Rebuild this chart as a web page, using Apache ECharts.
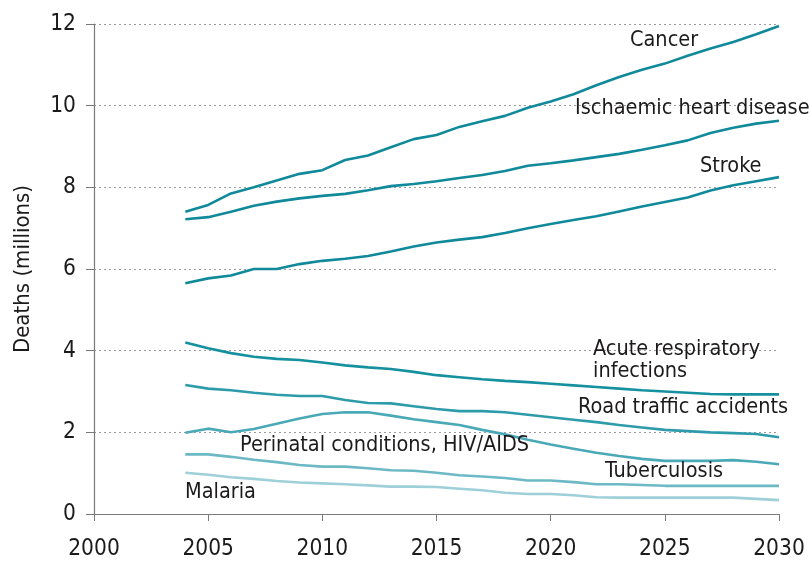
<!DOCTYPE html>
<html>
<head>
<meta charset="utf-8">
<script src="https://cdn.jsdelivr.net/npm/echarts@6/dist/echarts.min.js"></script>
<style>
  html, body { margin: 0; padding: 0; background: #fff; }
  #main { width: 809px; height: 562px; }
</style>
</head>
<body>
<div id="main"></div>
<script>
// projected deaths, millions
const years = [2004, 2005, 2006, 2007, 2008, 2009, 2010, 2011, 2012, 2013, 2014, 2015, 2016, 2017,
  2018, 2019, 2020, 2021, 2022, 2023, 2024, 2025, 2026, 2027, 2028, 2029, 2030];

const cancer = [7.40, 7.57, 7.85, 8.00, 8.17, 8.33, 8.42, 8.67, 8.78, 8.98, 9.18, 9.28, 9.48, 9.62,
  9.75, 9.95, 10.10, 10.28, 10.50, 10.70, 10.88, 11.03, 11.22, 11.40, 11.56, 11.75, 11.95];
const heart = [7.22, 7.27, 7.40, 7.55, 7.65, 7.73, 7.79, 7.84, 7.93, 8.03, 8.08, 8.15, 8.23, 8.30,
  8.40, 8.53, 8.59, 8.66, 8.74, 8.82, 8.92, 9.03, 9.15, 9.33, 9.46, 9.56, 9.63];
const stroke = [5.65, 5.77, 5.84, 6.00, 6.00, 6.12, 6.20, 6.25, 6.32, 6.43, 6.55, 6.65, 6.72, 6.78,
  6.88, 7.00, 7.10, 7.20, 7.29, 7.41, 7.53, 7.64, 7.75, 7.92, 8.05, 8.15, 8.25];
const respiratory = [4.20, 4.06, 3.94, 3.85, 3.80, 3.77, 3.71, 3.64, 3.59, 3.55, 3.48, 3.40, 3.35, 3.30,
  3.26, 3.23, 3.19, 3.15, 3.11, 3.07, 3.03, 3.00, 2.97, 2.94, 2.93, 2.93, 2.93];
const road = [3.16, 3.07, 3.03, 2.97, 2.92, 2.89, 2.89, 2.79, 2.72, 2.71, 2.64, 2.57, 2.52, 2.52,
  2.49, 2.43, 2.37, 2.31, 2.25, 2.18, 2.12, 2.06, 2.03, 2.00, 1.98, 1.96, 1.88];
const perinatal = [1.99, 2.09, 2.00, 2.08, 2.21, 2.34, 2.45, 2.49, 2.49, 2.41, 2.32, 2.25, 2.18, 2.06,
  1.95, 1.82, 1.70, 1.60, 1.50, 1.42, 1.35, 1.30, 1.30, 1.30, 1.32, 1.28, 1.22];
const tb = [1.46, 1.46, 1.40, 1.33, 1.27, 1.20, 1.16, 1.16, 1.12, 1.07, 1.06, 1.01, 0.95, 0.92,
  0.88, 0.82, 0.82, 0.78, 0.73, 0.73, 0.71, 0.69, 0.69, 0.69, 0.69, 0.69, 0.69];
const malaria = [1.01, 0.96, 0.90, 0.86, 0.81, 0.77, 0.75, 0.73, 0.70, 0.67, 0.67, 0.66, 0.62, 0.58,
  0.52, 0.49, 0.49, 0.46, 0.41, 0.40, 0.40, 0.40, 0.40, 0.40, 0.40, 0.37, 0.34];

const FONT = "'Liberation Sans Narrow', 'DejaVu Sans Condensed', sans-serif";
const TXT = '#1c1a1b';

// name, values, colour
const lines = [
  ['Cancer', cancer, '#10899a'],
  ['Ischaemic heart disease', heart, '#10899a'],
  ['Stroke', stroke, '#10899a'],
  ['Acute respiratory infections', respiratory, '#15909f'],
  ['Road traffic accidents', road, '#2e9bab'],
  ['Perinatal conditions, HIV/AIDS', perinatal, '#4aa9b6'],
  ['Tuberculosis', tb, '#6cb9c5'],
  ['Malaria', malaria, '#9dd0d8']
];

// text labels next to the lines: [text, left, middle y]
const labels = [
  ['Cancer', 630, 40],
  ['Ischaemic heart disease', 575, 108],
  ['Stroke', 700, 166],
  ['Acute respiratory', 593, 349],
  ['infections', 593, 371],
  ['Road traffic accidents', 578, 407],
  ['Perinatal conditions, HIV/AIDS', 240, 445],
  ['Tuberculosis', 605, 471],
  ['Malaria', 185, 492]
];

const chart = echarts.init(document.getElementById('main'));

chart.setOption({
  animation: false,
  backgroundColor: '#fff',
  grid: { left: 94, right: 30, top: 24, bottom: 48, outerBoundsMode: 'none', containLabel: false },
  xAxis: {
    type: 'value',
    min: 2000,
    max: 2030,
    interval: 5,
    axisLine: { lineStyle: { color: '#7a7a7a', width: 1.2 } },
    axisTick: { show: true, length: 7, lineStyle: { color: '#7a7a7a' } },
    axisLabel: { color: TXT, fontFamily: FONT, fontSize: 22.5, margin: 24,
      formatter: v => String(v) },
    splitLine: { show: false }
  },
  yAxis: {
    type: 'value',
    min: 0,
    max: 12,
    interval: 2,
    name: 'Deaths (millions)',
    nameLocation: 'middle',
    nameGap: 60,
    nameTextStyle: { color: TXT, fontFamily: FONT, fontSize: 22 },
    axisLine: { show: true, lineStyle: { color: '#7a7a7a', width: 1.2 } },
    axisTick: { show: true, length: 8, lineStyle: { color: '#7a7a7a' } },
    axisLabel: { color: TXT, fontFamily: FONT, fontSize: 22.5, margin: 18 },
    splitLine: { show: true, lineStyle: { color: '#9a9a9a', type: [2, 3], width: 1 } }
  },
  series: lines.map(([name, vals, color]) => ({
    name: name,
    type: 'line',
    data: years.map((y, i) => [y, vals[i]]),
    showSymbol: false,
    smooth: false,
    lineStyle: { color: color, width: 2.6 },
    itemStyle: { color: color },
    z: 3
  })),
  graphic: labels.map(([t, x, y]) => ({
    type: 'text',
    x: x,
    y: y,
    z: 10,
    style: {
      text: t,
      font: '21.5px ' + FONT,
      fill: TXT,
      textAlign: 'left',
      textVerticalAlign: 'middle'
    }
  }))
});
</script>
</body>
</html>
